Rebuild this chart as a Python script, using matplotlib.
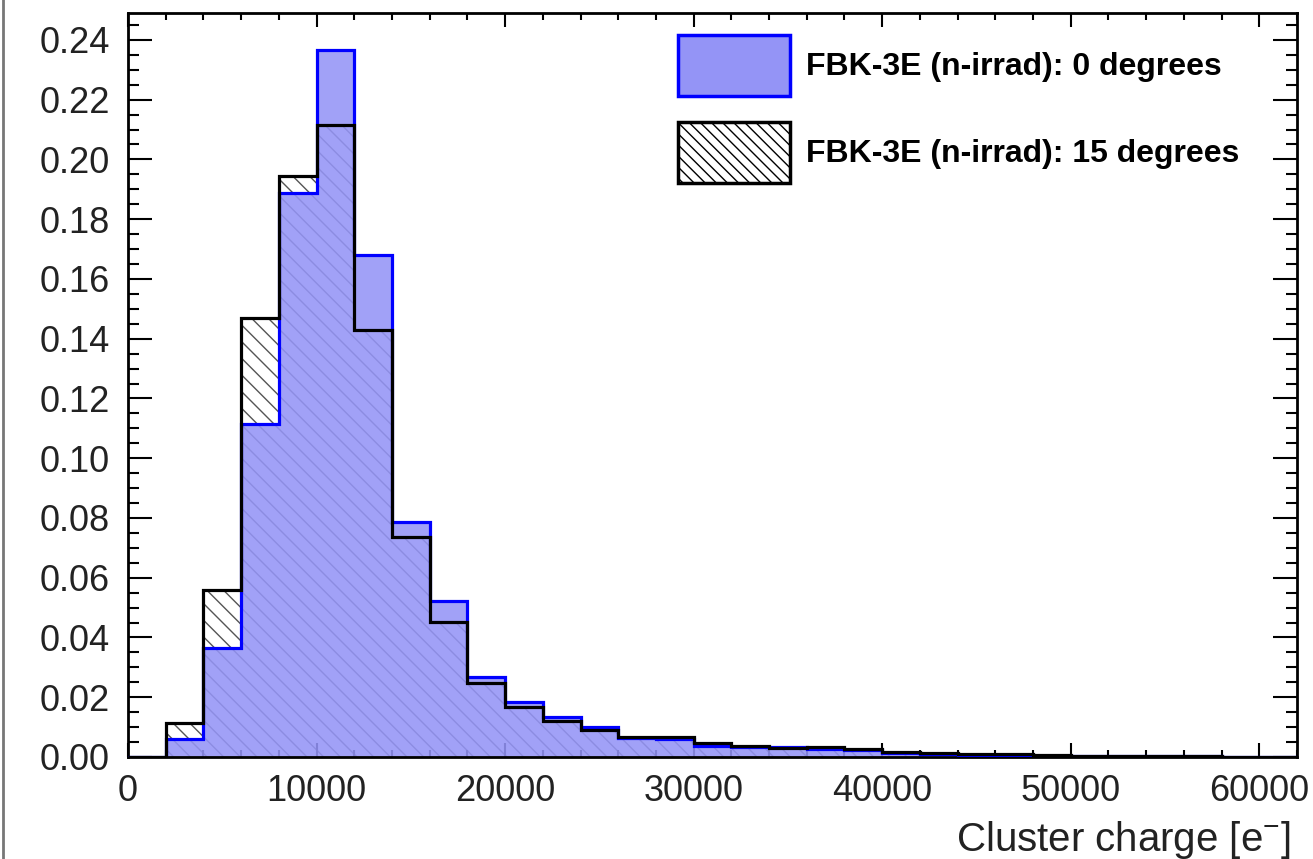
import numpy as np
import matplotlib
matplotlib.use("Agg")
import matplotlib.pyplot as plt
from matplotlib.patches import Patch
from matplotlib.ticker import MultipleLocator, FixedLocator

plt.rcParams['font.family'] = ['Liberation Sans', 'DejaVu Sans']
plt.rcParams['mathtext.default'] = 'regular'
plt.rcParams['hatch.linewidth'] = 1.0

# гистограммы: бины по 2000 e-, от 0 до 62000
bin_width = 2000
deg0 = [0.0, 0.0060, 0.0365, 0.1115, 0.1887, 0.2365, 0.1680, 0.0787, 0.0523, 0.0269,
        0.0183, 0.0133, 0.0101, 0.0062, 0.0060, 0.0037, 0.0033, 0.0035, 0.0027, 0.0022,
        0.0015, 0.0010, 0.0008, 0.0007, 0.0005, 0.0004, 0.0003, 0.0002, 0.0002, 0.0001,
        0.0001]
deg15 = [0.0, 0.0115, 0.0559, 0.1470, 0.1946, 0.2114, 0.1428, 0.0736, 0.0453, 0.0247,
         0.0168, 0.0122, 0.0090, 0.0068, 0.0067, 0.0046, 0.0037, 0.0031, 0.0032, 0.0028,
         0.0018, 0.0012, 0.0011, 0.0010, 0.0006, 0.0005, 0.0004, 0.0003, 0.0002, 0.0001,
         0.0001]
label0 = "FBK-3E (n-irrad): 0 degrees"
label15 = "FBK-3E (n-irrad): 15 degrees"
x_ticks = [0, 10000, 20000, 30000, 40000, 50000, 60000]
y_ticks = [0.00, 0.02, 0.04, 0.06, 0.08, 0.10, 0.12, 0.14, 0.16, 0.18, 0.20, 0.22, 0.24]

edges = np.arange(len(deg0) + 1) * bin_width

blue_fill = '#9494f6'
blue_edge = '#0000ff'
hatch_col = '#555555'
text_col = '#222222'

fig = plt.figure(figsize=(13.13, 8.59), dpi=100)
ax = fig.add_axes([128 / 1313, 1 - 757 / 859, 1169 / 1313, 744 / 859])

# штриховка 15 градусов (под синим)
ax.stairs(deg15, edges, fill=True, facecolor='none', edgecolor=hatch_col,
          hatch='\\\\', linewidth=0, zorder=1)
# 0 градусов: заливка с небольшой прозрачностью, чтобы штриховка просвечивала
ax.stairs(deg0, edges, fill=True, facecolor=blue_fill, alpha=0.88, linewidth=0, zorder=2)
ax.stairs(deg0, edges, color=blue_edge, linewidth=2.3, zorder=3)
ax.stairs(deg15, edges, color='black', linewidth=2.3, zorder=4)

ax.set_xlim(0, 62000)
ax.set_ylim(0, 0.249)

ax.xaxis.set_major_locator(FixedLocator(x_ticks))
ax.xaxis.set_minor_locator(MultipleLocator(2000))
ax.yaxis.set_major_locator(FixedLocator(y_ticks))
ax.yaxis.set_minor_locator(MultipleLocator(0.005))
ax.set_xticklabels([str(t) for t in x_ticks])
ax.set_yticklabels(["%.2f" % t for t in y_ticks])

ax.tick_params(which='both', direction='in', top=True, right=True, width=1.5, colors='black')
ax.tick_params(axis='x', which='major', length=10, pad=12, labelsize=26, labelcolor=text_col)
ax.tick_params(axis='x', which='minor', length=5)
ax.tick_params(axis='y', which='major', length=17, pad=13, labelsize=26, labelcolor=text_col)
ax.tick_params(axis='y', which='minor', length=8)
for s in ax.spines.values():
    s.set_linewidth(2)

ax.set_xlabel("Cluster charge [e$^{-}$]", fontsize=29, color=text_col)
ax.xaxis.set_label_coords(1 - 6 / 1169, -0.084)
ax.xaxis.label.set_horizontalalignment('right')
ax.xaxis.label.set_verticalalignment('top')

h0 = Patch(facecolor=blue_fill, edgecolor=blue_edge, linewidth=2.5)
h15 = Patch(facecolor='white', edgecolor='black', hatch='\\\\\\', linewidth=2.5)
ax.legend([h0, h15], [label0, label15], loc='upper left',
          bbox_to_anchor=((678 - 128) / 1169, 1 - (35 - 13) / 744),
          frameon=False, borderpad=0, borderaxespad=0,
          handlelength=3.5, handleheight=2.55, handletextpad=0.5, labelspacing=0.82,
          prop={'weight': 'bold', 'size': 23})

# рамка картинки слева
fig.add_artist(plt.Line2D([0.002, 0.002], [0, 1], color='#777777', linewidth=2))

fig.savefig("out.png", dpi=100)
